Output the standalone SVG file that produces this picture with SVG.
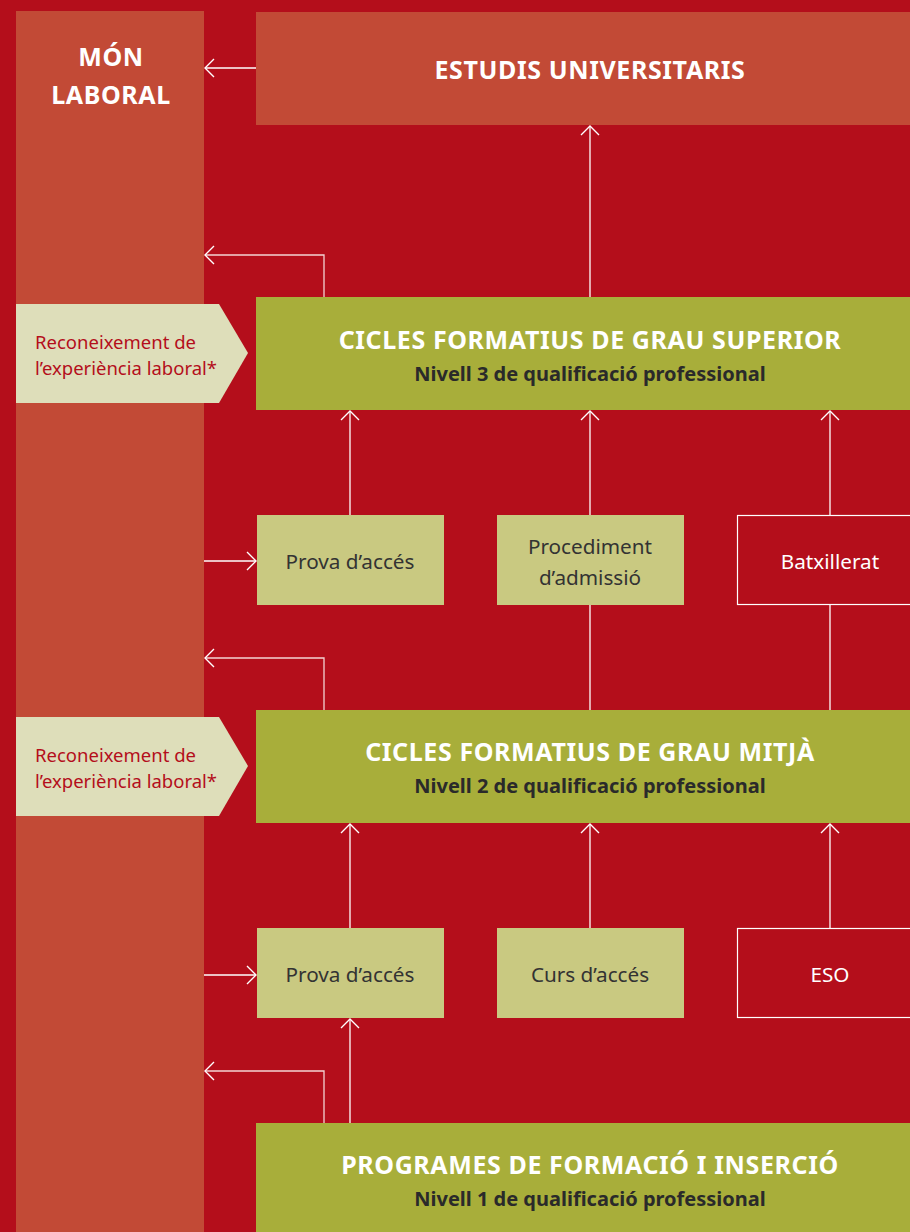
<svg xmlns="http://www.w3.org/2000/svg" width="910" height="1232" viewBox="0 0 910 1232">
<defs>
<style>
.col{fill:#C24A36}
.green{fill:#A8AE3A}
.pale{fill:#C9C981}
.pent{fill:#DEDEBA}
.outline{fill:none;stroke:#FFFFFF;stroke-width:1.2}
.ttl{font-family:"Noto Sans","Open Sans",sans-serif;font-weight:bold;fill:#FFFFFF;text-anchor:middle;font-size:25px;letter-spacing:0.6px}
.sub{font-family:"Noto Sans","Open Sans",sans-serif;font-weight:bold;fill:#2A2A2A;font-size:20px;text-anchor:middle}
.box{font-family:"Noto Sans","Open Sans",sans-serif;fill:#333333;font-size:20.7px;text-anchor:middle}
.boxw{font-family:"Noto Sans","Open Sans",sans-serif;fill:#FFFFFF;font-size:20.7px;text-anchor:middle}
.rec{font-family:"Noto Sans","Open Sans",sans-serif;fill:#B40E1B;font-size:18.5px}
.ln{fill:none;stroke:#FFFFFF;stroke-width:1.3}
.lp{fill:none;stroke:#F3D3D3;stroke-width:1.3}
</style>
<marker id="ah" markerWidth="12" markerHeight="20" refX="10" refY="10" orient="auto" markerUnits="userSpaceOnUse">
<path d="M1,1 L10,10 L1,19" fill="none" stroke="#FFFFFF" stroke-width="1.4"/>
</marker>
</defs>
<rect x="0" y="0" width="910" height="1232" fill="#B40E1B"/>

<g id="mon-laboral">
<rect class="col" x="16" y="11" width="188" height="1221"/>
<text class="ttl" x="111" y="66" letter-spacing="0.8">MÓN</text>
<text class="ttl" x="111" y="104" letter-spacing="0.8">LABORAL</text>
</g>

<g id="estudis-universitaris">
<rect class="col" x="256" y="12" width="654" height="113"/>
<text class="ttl" x="590" y="79" letter-spacing="0.8">ESTUDIS UNIVERSITARIS</text>
</g>

<g id="grau-superior">
<rect class="green" x="256" y="297" width="654" height="113"/>
<text class="ttl" x="590" y="349">CICLES FORMATIUS DE GRAU SUPERIOR</text>
<text class="sub" x="590" y="381">Nivell 3 de qualificació professional</text>
</g>

<g id="reconeixement-1">
<polygon class="pent" points="16,304 219,304 248,353 219,403 16,403"/>
<text class="rec" x="35" y="349">Reconeixement de</text>
<text class="rec" x="35" y="375">l’experiència laboral*</text>
</g>

<g id="prova-acces-1">
<rect class="pale" x="257" y="515" width="187" height="90"/>
<text class="box" x="350" y="569">Prova d’accés</text>
</g>

<g id="procediment-admissio">
<rect class="pale" x="497" y="515" width="187" height="90"/>
<text class="box" x="590" y="554">Procediment</text>
<text class="box" x="590" y="585">d’admissió</text>
</g>

<g id="batxillerat">
<rect class="outline" x="737.5" y="515.5" width="187" height="89"/>
<text class="boxw" x="830" y="569">Batxillerat</text>
</g>

<g id="grau-mitja">
<rect class="green" x="256" y="710" width="654" height="113"/>
<text class="ttl" x="590" y="761">CICLES FORMATIUS DE GRAU MITJÀ</text>
<text class="sub" x="590" y="793">Nivell 2 de qualificació professional</text>
</g>

<g id="reconeixement-2">
<polygon class="pent" points="16,717 219,717 248,766 219,816 16,816"/>
<text class="rec" x="35" y="762">Reconeixement de</text>
<text class="rec" x="35" y="788">l’experiència laboral*</text>
</g>

<g id="prova-acces-2">
<rect class="pale" x="257" y="928" width="187" height="90"/>
<text class="box" x="350" y="982">Prova d’accés</text>
</g>

<g id="curs-acces">
<rect class="pale" x="497" y="928" width="187" height="90"/>
<text class="box" x="590" y="982">Curs d’accés</text>
</g>

<g id="eso">
<rect class="outline" x="737.5" y="928.5" width="187" height="89"/>
<text class="boxw" x="830" y="982">ESO</text>
</g>

<g id="programes-formacio">
<rect class="green" x="256" y="1123" width="654" height="109"/>
<text class="ttl" x="590" y="1174">PROGRAMES DE FORMACIÓ I INSERCIÓ</text>
<text class="sub" x="590" y="1206">Nivell 1 de qualificació professional</text>
</g>

<g id="connectors">
<path class="ln" d="M256,68 H205" marker-end="url(#ah)"/>
<path class="lp" d="M324,297 V255 H205" marker-end="url(#ah)"/>
<path class="ln" d="M590,297 V126" marker-end="url(#ah)"/>
<path class="ln" d="M350,515 V411" marker-end="url(#ah)"/>
<path class="ln" d="M590,515 V411" marker-end="url(#ah)"/>
<path class="ln" d="M830,515 V411" marker-end="url(#ah)"/>
<path class="ln" d="M204,561 H256" marker-end="url(#ah)"/>
<path class="ln" d="M590,605 V710"/>
<path class="ln" d="M830,605 V710"/>
<path class="lp" d="M324,710 V658 H205" marker-end="url(#ah)"/>
<path class="ln" d="M350,928 V824" marker-end="url(#ah)"/>
<path class="ln" d="M590,928 V824" marker-end="url(#ah)"/>
<path class="ln" d="M830,928 V824" marker-end="url(#ah)"/>
<path class="ln" d="M204,975 H256" marker-end="url(#ah)"/>
<path class="ln" d="M350,1123 V1019" marker-end="url(#ah)"/>
<path class="lp" d="M324,1123 V1071 H205" marker-end="url(#ah)"/>
</g>
</svg>
